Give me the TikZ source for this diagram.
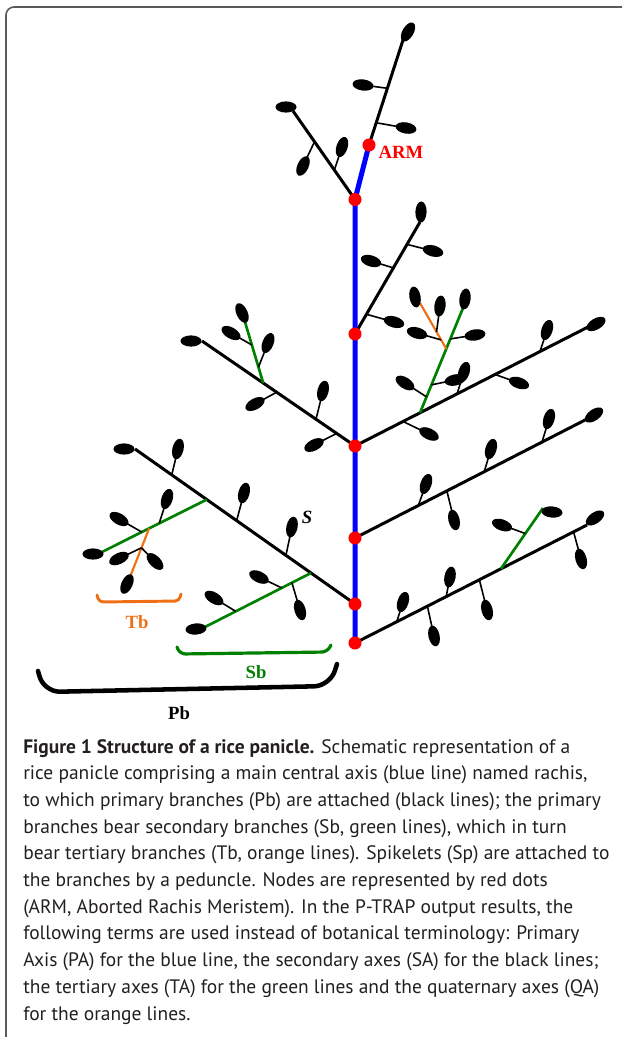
\documentclass[tikz,border=0pt]{standalone}
\usepackage{fontspec}
\newfontfamily\capfont{PT Sans}
\newfontfamily\labfont{Liberation Serif}
\usetikzlibrary{calc}

\definecolor{rachisblue}{RGB}{0,0,255}
\definecolor{secgreen}{RGB}{0,128,0}
\definecolor{terorange}{RGB}{240,110,20}
\definecolor{nodered}{RGB}{255,0,0}
\definecolor{framegray}{RGB}{90,90,90}
\definecolor{captext}{RGB}{35,31,32}

\tikzset{
  rachis/.style={draw=rachisblue, line width=3.75pt},
  primary/.style={draw=black, line width=2.25pt},
  secondary/.style={draw=secgreen, line width=2pt},
  tertiary/.style={draw=terorange, line width=1.6pt},
  ped/.style={draw=black, line width=1.2pt},
  rnode/.style={fill=nodered},
  lab/.style={font=\labfont\bfseries\fontsize{14}{16}\selectfont, inner sep=0pt},
  captxt/.style={font=\capfont\fontsize{14.6}{20}\selectfont, text=captext, anchor=base west, inner sep=0pt},
}

% spikelet on a peduncle: base point, grain centre
\newcommand\spikelet[2]{%
  \coordinate (sb) at #1; \coordinate (st) at #2;
  \draw[ped] (sb) -- (st);
  \pgfmathanglebetweenpoints{\pgfpointanchor{sb}{center}}{\pgfpointanchor{st}{center}}%
  \let\spkang\pgfmathresult
  \fill[rotate around={\spkang:(st)}] (st) ellipse [x radius=7.9pt, y radius=4.2pt];}
% grain at the end of a branch: centre, angle
\newcommand\tipgrain[2]{%
  \fill[rotate around={#2:#1}] #1 ellipse [x radius=7.9pt, y radius=4.2pt];}

\begin{document}
\begin{tikzpicture}[x=0.75pt,y=-0.75pt]
\useasboundingbox (0,0) rectangle (622,1037);

% frame
\draw[framegray, line width=1.2pt, rounded corners=6pt] (6,1037) -- (6,7) -- (622,7);

% nodes on the rachis
\coordinate (r0) at (355,643);
\coordinate (r1) at (355,604);
\coordinate (r2) at (355,538);
\coordinate (r3) at (355,446);
\coordinate (r4) at (355,334);
\coordinate (r5) at (355,199.5);
\coordinate (arm) at (369,145);

% ends of the primary branches
\coordinate (a) at (404,37);
\coordinate (b) at (293,111);
\coordinate (c) at (420,222);
\coordinate (d) at (588,327);
\coordinate (e) at (202,341);
\coordinate (f) at (587,419);
\coordinate (g) at (135,449);
\coordinate (h) at (587,525);

% top, above the ARM
\draw[primary] (arm) -- (a);
\spikelet{($(arm)!.525!(a)$)}{(363,85)}
\spikelet{($(arm)!.206!(a)$)}{(406,128)}
\tipgrain{(408,32)}{60}

% branch at r5
\draw[primary] (r5) -- (b);
\spikelet{($(r5)!.653!(b)$)}{(303,166)}
\spikelet{($(r5)!.333!(b)$)}{(342,147)}
\tipgrain{(286,107)}{0}

% branch at r4
\draw[primary] (r4) -- (c);
\spikelet{($(r4)!.80!(c)$)}{(433,251)}
\spikelet{($(r4)!.59!(c)$)}{(371,261)}
\spikelet{($(r4)!.176!(c)$)}{(394,322)}
\tipgrain{(421,212)}{88}

% right branch at r3, with a secondary and a tertiary
\draw[primary] (r3) -- (d);
\coordinate (d1b) at ($(r3)!.279!(d)$);
\coordinate (d1) at (463,308);
\draw[secondary] (d1b) -- (d1);
\coordinate (o1b) at ($(d1b)!.61!(d1)$);
\coordinate (o1) at (420,303);
\draw[tertiary] (o1b) -- (o1);
\spikelet{($(r3)!.794!(d)$)}{(547,330)}
\spikelet{($(r3)!.601!(d)$)}{(519,383)}
\spikelet{($(r3)!.438!(d)$)}{(464,372)}
\spikelet{($(r3)!.206!(d)$)}{(429,434)}
\spikelet{($(d1b)!.152!(d1)$)}{(405,383)}
\spikelet{($(d1b)!.267!(d1)$)}{(455,380)}
\spikelet{($(d1b)!.705!(d1)$)}{(475,335)}
\spikelet{($(o1b)!.37!(o1)$)}{(440,306)}
\spikelet{($(o1b)!.196!(o1)$)}{(417,333)}
\tipgrain{(596,324)}{30}
\tipgrain{(465,299)}{82}
\tipgrain{(415,297)}{100}

% left branch at r3
\draw[primary] (r3) -- (e);
\coordinate (e1b) at ($(r3)!.6!(e)$);
\coordinate (e1) at (245,322);
\draw[secondary] (e1b) -- (e1);
\spikelet{($(r3)!.512!(e)$)}{(255,404)}
\spikelet{($(r3)!.255!(e)$)}{(323,391)}
\spikelet{($(r3)!.12!(e)$)}{(314,445)}
\spikelet{($(e1b)!.623!(e1)$)}{(231,333)}
\spikelet{($(e1b)!.26!(e1)$)}{(268,343)}
\tipgrain{(191,341)}{0}
\tipgrain{(242,313)}{115}

% branch at r2
\draw[primary] (r2) -- (f);
\spikelet{($(r2)!.806!(f)$)}{(549,419)}
\spikelet{($(r2)!.557!(f)$)}{(491,449)}
\spikelet{($(r2)!.273!(f)$)}{(426,484)}
\spikelet{($(r2)!.396!(f)$)}{(454,520)}
\tipgrain{(594,415)}{35}

% long left branch at r1
\draw[primary] (r1) -- (g);
\coordinate (g1b) at ($(r1)!.674!(g)$);
\coordinate (g1) at (102,552);
\coordinate (g2b) at ($(r1)!.2!(g)$);
\coordinate (g2) at (205,627);
\draw[secondary] (g1b) -- (g1);
\draw[secondary] (g2b) -- (g2);
\coordinate (o2b) at ($(g1b)!.55!(g1)$);
\coordinate (o2) at (130,577);
\draw[tertiary] (o2b) -- (o2);
\spikelet{($(r1)!.833!(g)$)}{(178,449)}
\spikelet{($(r1)!.538!(g)$)}{(244,493)}
\spikelet{($(r1)!.314!(g)$)}{(292,527)}
\spikelet{($(g1b)!.62!(g1)$)}{(119,519)}
\spikelet{($(g1b)!.454!(g1)$)}{(167,499)}
\spikelet{($(o2b)!.4!(o2)$)}{(119,558.5)}
\spikelet{($(o2b)!.4!(o2)$)}{(155,561.5)}
\spikelet{($(g2b)!.71!(g2)$)}{(214,598)}
\spikelet{($(g2b)!.276!(g2)$)}{(259,577)}
\spikelet{($(g2b)!.18!(g2)$)}{(300,610)}
\tipgrain{(124,449)}{0}
\tipgrain{(93,554)}{0}
\tipgrain{(196,629)}{5}
\tipgrain{(127,584)}{65}

% lowest branch at r0
\draw[primary] (r0) -- (h);
\coordinate (h1b) at ($(r0)!.629!(h)$);
\coordinate (h1) at (543,508);
\draw[secondary] (h1b) -- (h1);
\spikelet{($(r0)!.942!(h)$)}{(581,559)}
\spikelet{($(r0)!.393!(h)$)}{(450,577)}
\spikelet{($(r0)!.536!(h)$)}{(487,610)}
\spikelet{($(r0)!.312!(h)$)}{(434,636)}
\spikelet{($(r0)!.18!(h)$)}{(403,602)}
\spikelet{($(h1b)!.58!(h1)$)}{(502,525)}
\tipgrain{(595,518)}{35}
\tipgrain{(552,512)}{-5}

% rachis and its nodes
\draw[rachis] (r0) -- (r5) -- (arm);
\foreach \n in {r0,r1,r2,r3,r4,r5,arm}
  \fill[rnode] (\n) circle [radius=4.9pt];

% braces
\draw[terorange, line width=2.2pt, line cap=round, rounded corners=3pt] (97,595) -- (99,602) -- (179,601) -- (181,594);
\draw[secgreen, line width=2.4pt, line cap=round, rounded corners=4pt] (177,647) -- (180,654) -- (327,652) -- (331,645);
\draw[black, line width=3.4pt, line cap=round, rounded corners=12pt] (38,671) -- (44,692) -- (330,686) -- (337,664);

% labels
\node[lab, text=nodered] (armlab) at (401,152) {ARM};
\node[lab, font=\labfont\bfseries\itshape\fontsize{14}{16}\selectfont] (slab) at (307,517) {S};
\node[lab, text=terorange] (tblab) at (137,622) {Tb};
\node[lab, text=secgreen] (sblab) at (256,672) {Sb};
\node[lab] (pblab) at (179,713) {Pb};

% caption
\foreach \txt [count=\i] in {
  {\textbf{Figure 1 Structure of a rice panicle.} Schematic representation of a},
  {rice panicle comprising a main central axis (blue line) named rachis,},
  {to which primary branches (Pb) are attached (black lines); the primary},
  {branches bear secondary branches (Sb, green lines), which in turn},
  {bear tertiary branches (Tb, orange lines). Spikelets (Sp) are attached to},
  {the branches by a peduncle. Nodes are represented by red dots},
  {(ARM, Aborted Rachis Meristem). In the P-TRAP output results, the},
  {following terms are used instead of botanical terminology: Primary},
  {Axis (PA) for the blue line, the secondary axes (SA) for the black lines;},
  {the tertiary axes (TA) for the green lines and the quaternary axes (QA)},
  {for the orange lines.}}
  \node[captxt] (cap\i) at (23,{753+26.7*(\i-1)}) {\txt};
\end{tikzpicture}
\end{document}
